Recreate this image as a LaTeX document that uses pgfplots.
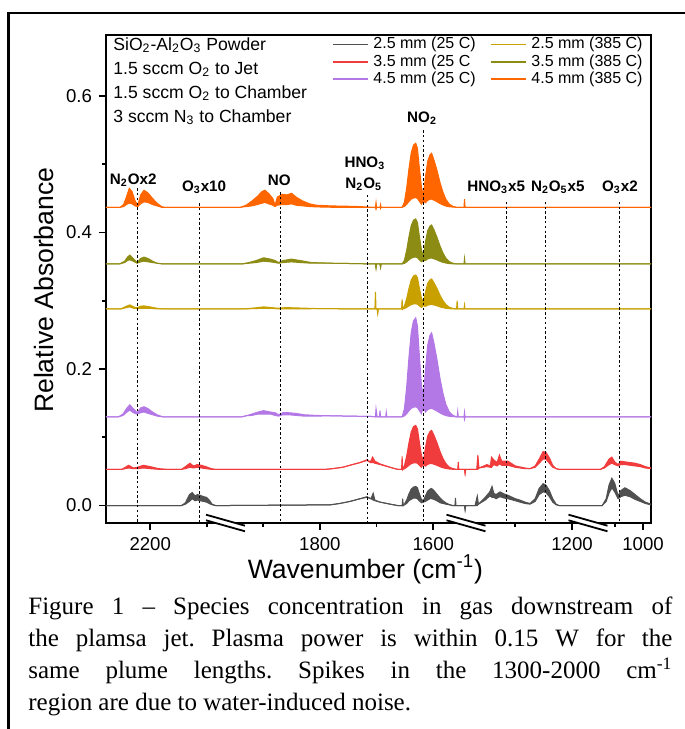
\documentclass[border=0pt]{standalone}
\usepackage{fontspec}
\setmainfont{Liberation Sans}
\newfontfamily\capfont{Liberation Serif}
\usepackage{pgfplots}
\usepackage{pgfplotstable}
\pgfplotsset{compat=1.18}
\usepgfplotslibrary{fillbetween}

\definecolor{cgray}{HTML}{505050}
\definecolor{cred}{HTML}{F03C3C}
\definecolor{cpurple}{HTML}{B478E6}
\definecolor{cgold}{HTML}{C8A000}
\definecolor{colive}{HTML}{8C8C14}
\definecolor{corange}{HTML}{FF6600}

% broken wavenumber axis: the gaps 1967-2068, 1387-1542 and 1097-1172 are cut out
\pgfplotsset{brokenx/.style={
  x coord trafo/.code={\pgfmathparse{##1>=2017 ? ##1 : (##1>=1465 ? ##1+101 : (##1>=1135 ? ##1+256.5 : ##1+331.3))}},
  x coord inv trafo/.code={\pgfmathparse{##1}},
}}

% w = wavenumber, u / l = upper / lower edge of the noisy band
\pgfplotstableread{
w u l
2278 0 0
2145 0 0
2138 .004 .002
2131 .016 .006
2126 .019 .010
2121 .014 .007
2117 .016 .008
2112 .015 .007
2106 .013 .006
2101 .012 .005
2096 .008 .003
2091 .002 .001
2085 0 0
1966 0 0
1782 .001 .001
1765 .003 .003
1747 .006 .006
1729 .010 .010
1717 .013 .012
1710 .010 .010
1706 .018 .008
1703 .008 .007
1694 .005 .005
1676 .002 .002
1663 0 0
1655 0 0
1654 .010 0
1653 0 0
1651 .002 .001
1647 .008 .003
1643 .017 .007
1639 .024 .009
1635 .027 .011
1631 .028 .011
1628 .026 .010
1625 .018 .007
1621 .009 .004
1617.5 .007 .005
1614 .014 .006
1610 .021 .008
1606 .024 .010
1603 .025 .010
1599 .022 .009
1594 .017 .007
1588 .011 .004
1583 .007 .003
1578 .004 .002
1572 .0015 .001
1566 0 0
1562 0 0
1561 .011 0
1560 0 0
1545 0 0
1544 -.006 -.006
1543 0 0
1385 0 0
1371 0 0
1367 .014 0
1365 .002 .002
1353 .012 .008
1345 .020 .014
1341 .028 .012
1338 .018 .012
1334 .016 .010
1327 .020 .013
1320 .017 .011
1313 .015 .010
1300 .010 .007
1292 .008 .005
1283 .005 .003
1274 .003 .002
1265 .010 .006
1258 .025 .016
1251 .032 .020
1246 .030 .019
1240 .022 .013
1234 .010 .005
1228 .002 .001
1223 0 0
1172 0 0
1095 0 0
1072 0 0
1065 .010 .006
1060 .030 .018
1055 .040 .026
1050 .033 .020
1044 .014 .010
1039 .022 .013
1032 .026 .015
1023 .022 .013
1014 .016 .009
1005 .010 .006
996 .005 .003
986 .002 .001
}\tgray

\pgfplotstableread{
w u l
2278 .053 .053
2250 .053 .053
2244 .056 .054
2238 .059 .055
2230 .055 .054
2223 .056 .054
2212 .059 .055
2200 .057 .054
2185 .054 .053
2170 .053 .053
2145 .053 .053
2138 .057 .054
2130 .062 .056
2124 .058 .055
2117 .060 .056
2110 .059 .055
2102 .057 .054
2092 .054 .053
2085 .053 .053
1966 .053 .053
1790 .053 .053
1778 .054 .054
1760 .056 .056
1747 .059 .059
1729 .063 .063
1717 .067 .066
1711 .064 .063
1707 .071 .063
1703 .065 .062
1694 .061 .060
1676 .056 .056
1663 .053 .053
1656 .053 .053
1655 .072 .053
1654 .053 .053
1651 .0581 .0537
1647 .0723 .0560
1643 .0917 .0589
1639 .1078 .0612
1635 .1156 .0624
1631 .1175 .0627
1628 .1123 .0619
1625 .0949 .0593
1621 .0737 .0561
1617.5 .0647 .0603
1614 .0845 .0577
1610 .1016 .0603
1606 .1084 .0613
1603 .1101 .0616
1599 .1032 .0605
1594 .0930 .0590
1588 .0788 .0568
1583 .0690 .0553
1578 .0616 .0543
1572 .0564 .0535
1566 .0542 .0531
1560 .053 .053
1557 .053 .053
1556 .064 .053
1555 .053 .053
1545 .053 .053
1544 .047 .047
1543 .053 .053
1385 .053 .053
1368 .053 .053
1366 .074 .053
1364 .055 .055
1350 .060 .057
1344 .058 .056
1342 .071 .056
1338 .067 .060
1332 .063 .058
1328 .074 .061
1324 .065 .059
1313 .065 .059
1300 .058 .056
1283 .055 .054
1274 .054 .054
1265 .058 .056
1258 .068 .062
1251 .079 .068
1246 .078 .068
1240 .070 .062
1234 .059 .056
1228 .054 .054
1223 .053 .053
1172 .053 .053
1095 .053 .053
1075 .053 .053
1068 .057 .055
1060 .068 .060
1055 .071 .062
1050 .064 .060
1044 .060 .058
1039 .065 .060
1032 .064 .060
1014 .062 .058
1005 .060 .057
996 .057 .055
986 .055 .054
}\tred

\pgfplotstableread{
w u l
2278 .130 .130
2256 .130 .130
2248 .134 .132
2241 .143 .137
2236 .1476 .140
2230 .142 .136
2223 .136 .134
2217 .143 .136
2211 .1447 .137
2204 .142 .135
2196 .137 .133
2188 .133 .131
2178 .130 .130
1966 .130 .130
1937 .130 .130
1930 .1315 .1315
1920 .134 .132
1909 .137 .134
1899 .139 .134
1887 .137 .134
1879 .136 .132
1873 .133 .131
1865 .136 .133
1855 .136 .133
1842 .135 .132
1828 .133 .131
1806 .132 .131
1780 .1315 .1315
1750 .131 .131
1710 .1305 .1305
1702 .130 .130
1701 .142 .130
1699 .130 .130
1695 .130 .130
1694 .139 .130
1693 .130 .130
1684 .130 .130
1683 .137 .130
1682 .130 .130
1655 .130 .130
1651 .1416 .1312
1647 .1735 .1344
1643 .2170 .1387
1639 .2534 .1423
1635 .2706 .1441
1631 .2750 .1445
1628 .2633 .1433
1625 .2243 .1394
1621 .1764 .1346
1617.5 .1593 .1447
1614 .1977 .1368
1610 .2346 .1405
1606 .2494 .1419
1603 .2531 .1423
1599 .2383 .1408
1594 .2161 .1386
1588 .1854 .1355
1583 .1644 .1334
1578 .1485 .1318
1572 .1373 .1307
1566 .1325 .1302
1560 .130 .130
1558 .130 .130
1557 .138 .130
1556 .130 .130
1546 .130 .130
1545 .137 .126
1544 .130 .130
986 .130 .130
}\tpurple

\pgfplotstableread{
w u l
2278 .288 .288
2252 .288 .288
2242 .292 .290
2236 .294 .291
2229 .291 .289
2223 .2895 .2885
2217 .292 .289
2211 .2925 .289
2200 .291 .289
2188 .289 .288
2178 .288 .288
1966 .288 .288
1935 .288 .288
1915 .2895 .2885
1899 .291 .289
1885 .290 .289
1873 .289 .288
1860 .290 .288
1840 .2895 .288
1800 .2885 .2885
1715 .288 .288
1703 .288 .288
1702 .313 .288
1701 .288 .288
1699 .288 .288
1698 .282 .282
1697 .288 .288
1656 .288 .288
1655 .302 .288
1654 .288 .288
1651 .2920 .2886
1647 .3029 .2902
1643 .3179 .2925
1639 .3303 .2943
1635 .3363 .2953
1631 .3378 .2955
1628 .3339 .2949
1625 .3204 .2928
1621 .3040 .2903
1617.5 .2983 .2931
1614 .3122 .2917
1610 .3254 .2936
1606 .3306 .2944
1603 .3320 .2946
1599 .3267 .2939
1594 .3188 .2927
1588 .3078 .2909
1583 .3003 .2899
1578 .2946 .2890
1572 .2906 .2884
1566 .2889 .2881
1560 .288 .288
1559 .288 .288
1558 .300 .288
1557 .288 .288
1546 .288 .288
1545 .294 .288
1544 .288 .288
986 .288 .288
}\tgold

\pgfplotstableread{
w u l
2278 .354 .354
2254 .354 .354
2245 .358 .356
2240 .364 .359
2236 .367 .360
2230 .362 .358
2223 .356 .355
2217 .362 .357
2211 .364 .358
2204 .362 .357
2196 .358 .356
2188 .355 .355
2178 .354 .354
1966 .354 .354
1937 .354 .354
1925 .356 .355
1912 .359 .356
1899 .363 .358
1887 .361 .357
1879 .359 .356
1873 .356 .355
1865 .359 .356
1850 .361 .357
1835 .359 .356
1815 .356 .355
1780 .355 .355
1740 .3545 .3545
1710 .354 .354
1702 .354 .354
1701 .348 .348
1700 .354 .354
1694 .354 .354
1693 .349 .349
1692 .354 .354
1655 .354 .354
1651 .3593 .3547
1647 .3738 .3569
1643 .3936 .3599
1639 .4101 .3624
1635 .4180 .3637
1631 .4199 .3640
1628 .4146 .3631
1625 .3969 .3604
1621 .3751 .3572
1617.5 .3643 .3591
1614 .3855 .3587
1610 .4026 .3613
1606 .4094 .3624
1603 .4111 .3626
1599 .4042 .3615
1594 .3940 .3600
1588 .3798 .3578
1583 .3700 .3563
1578 .3626 .3553
1572 .3574 .3545
1566 .3552 .3541
1560 .354 .354
1546 .354 .354
1545 .362 .354
1544 .354 .354
986 .354 .354
}\tolive

\pgfplotstableread{
w u l
2278 .437 .437
2253 .437 .437
2247 .441 .438
2242 .452 .441
2237 .4648 .443
2232 .460 .442
2227 .447 .439
2222 .440 .438
2217 .455 .442
2211 .462 .445
2204 .458 .444
2196 .450 .441
2188 .443 .439
2180 .438 .437
2175 .437 .437
1966 .437 .437
1940 .437 .437
1930 .440 .438
1920 .446 .439
1910 .453 .441
1902 .460 .443
1897 .462 .444
1890 .457 .442
1883 .450 .440
1879 .440 .438
1875 .452 .440
1866 .456 .441
1858 .455 .441
1850 .4575 .442
1842 .452 .440
1830 .446 .439
1818 .442 .438
1806 .440 .4375
1780 .439 .437
1750 .4385 .437
1729 .438 .437
1710 .437 .437
1702 .437 .437
1701 .444 .434
1700 .437 .437
1694 .437 .437
1693 .441 .435
1692 .437 .437
1655 .437 .437
1651 .4445 .4382
1647 .4651 .4412
1643 .4933 .4455
1639 .5167 .4490
1635 .5280 .4506
1631 .5308 .4511
1628 .5233 .4499
1625 .4979 .4461
1621 .4670 .4415
1617.5 .4546 .4458
1614 .4805 .4436
1610 .5042 .4471
1606 .5138 .4486
1603 .5161 .4489
1599 .5066 .4474
1594 .4924 .4454
1588 .4726 .4423
1583 .4591 .4404
1578 .4489 .4388
1572 .4417 .4377
1566 .4386 .4373
1560 .437 .437
1546 .437 .437
1545 .449 .437
1544 .437 .437
986 .437 .437
}\torange

\begin{document}
\begin{tikzpicture}
\begin{axis}[
    brokenx,
    scale only axis,
    width=272.5pt, height=244pt,
    x dir=reverse,
    xmin=986, xmax=2278,
    ymin=-0.0256, ymax=0.6894,
    xtick={2200,1800,1600,1200,1000},
    xticklabels={2200,1800,1600,1200,1000},
    minor xtick={2100,1900,1700,1300,1050},
    ytick={0,0.2,0.4,0.6},
    minor ytick={0.1,0.3,0.5},
    yticklabel style={/pgf/number format/.cd, fixed, fixed zerofill, precision=1},
    /pgf/number format/assume math mode=true,
    ticklabel style={font=\fontsize{9.3}{11}\selectfont},
    tick pos=left,
    tick align=outside,
    major tick length=3.5pt,
    minor tick length=2pt,
    every tick/.style={black, line width=0.9pt},
    axis line style={line width=1.1pt},
    xlabel={Wavenumber (cm\textsuperscript{-1})},
    ylabel={Relative Absorbance},
    label style={font=\fontsize{13.3}{15}\selectfont},
    xlabel style={at={(axis description cs:0.476,-0.1127)}, anchor=base},
    ylabel style={at={(axis description cs:-0.0972,0.477)}, anchor=base},
    legend columns=3,
    transpose legend,
    legend style={at={(rel axis cs:1.0055,1.0068)}, anchor=north east,
      draw=none, fill=none, font=\fontsize{8}{9}\selectfont,
      nodes={inner xsep=2.5pt, inner ysep=0pt, text height=6.4pt, text depth=2pt},
      row sep=0.3pt,
      /tikz/every even column/.append style={column sep=4.5pt}},
    legend cell align={left},
    legend image code/.code={\draw[#1] (0pt,0pt) -- (17.5pt,0pt);},
]

% spectra: upper edge, lower edge and the band between them
\addplot[cgray, line width=0.5pt, name path=ga, forget plot] table[x=w, y=u] {\tgray};
\addplot[cgray, line width=0.5pt, name path=gb, forget plot] table[x=w, y=l] {\tgray};
\addplot[cgray, forget plot] fill between[of=ga and gb];

\addplot[cred, line width=0.5pt, name path=ra, forget plot] table[x=w, y=u] {\tred};
\addplot[cred, line width=0.5pt, name path=rb, forget plot] table[x=w, y=l] {\tred};
\addplot[cred, forget plot] fill between[of=ra and rb];

\addplot[cpurple, line width=0.5pt, name path=pa, forget plot] table[x=w, y=u] {\tpurple};
\addplot[cpurple, line width=0.5pt, name path=pb, forget plot] table[x=w, y=l] {\tpurple};
\addplot[cpurple, forget plot] fill between[of=pa and pb];

\addplot[cgold, line width=0.5pt, name path=ya, forget plot] table[x=w, y=u] {\tgold};
\addplot[cgold, line width=0.5pt, name path=yb, forget plot] table[x=w, y=l] {\tgold};
\addplot[cgold, forget plot] fill between[of=ya and yb];

\addplot[colive, line width=0.5pt, name path=oa, forget plot] table[x=w, y=u] {\tolive};
\addplot[colive, line width=0.5pt, name path=ob, forget plot] table[x=w, y=l] {\tolive};
\addplot[colive, forget plot] fill between[of=oa and ob];

\addplot[corange, line width=0.5pt, name path=na, forget plot] table[x=w, y=u] {\torange};
\addplot[corange, line width=0.5pt, name path=nb, forget plot] table[x=w, y=l] {\torange};
\addplot[corange, forget plot] fill between[of=na and nb];

% species positions
\addplot[black, line width=0.4pt, dash pattern=on 1.2pt off 1.2pt, forget plot] coordinates {(2223,0.465) (2223,-0.05)};
\addplot[black, line width=0.4pt, dash pattern=on 1.2pt off 1.2pt, forget plot] coordinates {(2113,0.443) (2113,-0.05)};
\addplot[black, line width=0.4pt, dash pattern=on 1.2pt off 1.2pt, forget plot] coordinates {(1870,0.459) (1870,-0.05)};
\addplot[black, line width=0.4pt, dash pattern=on 1.2pt off 1.2pt, forget plot] coordinates {(1717,0.455) (1717,-0.05)};
\addplot[black, line width=0.4pt, dash pattern=on 1.2pt off 1.2pt, forget plot] coordinates {(1617,0.550) (1617,-0.05)};
\addplot[black, line width=0.4pt, dash pattern=on 1.2pt off 1.2pt, forget plot] coordinates {(1315,0.445) (1315,-0.05)};
\addplot[black, line width=0.4pt, dash pattern=on 1.2pt off 1.2pt, forget plot] coordinates {(1247,0.445) (1247,-0.05)};
\addplot[black, line width=0.4pt, dash pattern=on 1.2pt off 1.2pt, forget plot] coordinates {(1042,0.445) (1042,-0.05)};

\addlegendimage{cgray, line width=0.9pt}
\addlegendentry{2.5 mm (25 C)}
\addlegendimage{cred, line width=0.9pt}
\addlegendentry{3.5 mm (25 C}
\addlegendimage{cpurple, line width=0.9pt}
\addlegendentry{4.5 mm (25 C)}
\addlegendimage{cgold, line width=0.9pt}
\addlegendentry{2.5 mm (385 C)}
\addlegendimage{colive, line width=0.9pt}
\addlegendentry{3.5 mm (385 C)}
\addlegendimage{corange, line width=0.9pt}
\addlegendentry{4.5 mm (385 C)}

\begin{scope}[font=\bfseries\fontsize{7.6}{9}\selectfont]
\node at (rel axis cs:0.050,0.703) {N\textsubscript{2}Ox2};
\node at (rel axis cs:0.180,0.689) {O\textsubscript{3}x10};
\node at (rel axis cs:0.318,0.703) {NO};
\node at (rel axis cs:0.475,0.738) {HNO\textsubscript{3}};
\node at (rel axis cs:0.473,0.695) {N\textsubscript{2}O\textsubscript{5}};
\node at (rel axis cs:0.580,0.830) {NO\textsubscript{2}};
\node at (rel axis cs:0.716,0.689) {HNO\textsubscript{3}x5};
\node at (rel axis cs:0.829,0.689) {N\textsubscript{2}O\textsubscript{5}x5};
\node at (rel axis cs:0.943,0.689) {O\textsubscript{3}x2};
\end{scope}

\begin{scope}[font=\fontsize{8.8}{10}\selectfont]
\node[anchor=base west, inner sep=0pt] at (rel axis cs:0.0128,0.969) {SiO\textsubscript{2}-Al\textsubscript{2}O\textsubscript{3} Powder};
\node[anchor=base west, inner sep=0pt] at (rel axis cs:0.0128,0.920) {1.5 sccm O\textsubscript{2} to Jet};
\node[anchor=base west, inner sep=0pt] at (rel axis cs:0.0128,0.870) {1.5 sccm O\textsubscript{2} to Chamber};
\node[anchor=base west, inner sep=0pt] at (rel axis cs:0.0128,0.821) {3 sccm N\textsubscript{3} to Chamber};
\end{scope}
\end{axis}

% axis break marks
\foreach \bx in {59.75pt,180pt,241pt} {
  \fill[white] ([shift={(-9.75pt,4.15pt)}]\bx,0) -- ++(19.5pt,-5.5pt) -- ++(0,-2.8pt) -- ++(-19.5pt,5.5pt) -- cycle;
  \draw[line width=0.9pt] ([shift={(-9.75pt,4.15pt)}]\bx,0) -- ++(19.5pt,-5.5pt);
  \draw[line width=0.9pt] ([shift={(-9.75pt,1.35pt)}]\bx,0) -- ++(19.5pt,-5.5pt);
}

% caption
\node[anchor=north west, inner sep=0pt, text width=322pt, align=justify,
  font=\capfont\fontsize{12.5}{16}\selectfont]
  at (-39pt,-36.5pt)
  {\frenchspacing\hyphenpenalty=10000 Figure 1 – Species concentration in gas downstream of\linebreak
   the plamsa jet. Plasma power is within 0.15 W for the\linebreak
   same plume lengths. Spikes in the 1300-2000 cm\textsuperscript{-1}\linebreak
   region are due to water-induced noise.};

% outer frame
\draw[line width=1.25pt] (-48.75pt,-120pt) -- (-48.75pt,255pt) -- (300pt,255pt);
\pgfresetboundingbox
\useasboundingbox (-53pt,-103pt) rectangle (289.5pt,261.5pt);
\end{tikzpicture}
\end{document}
